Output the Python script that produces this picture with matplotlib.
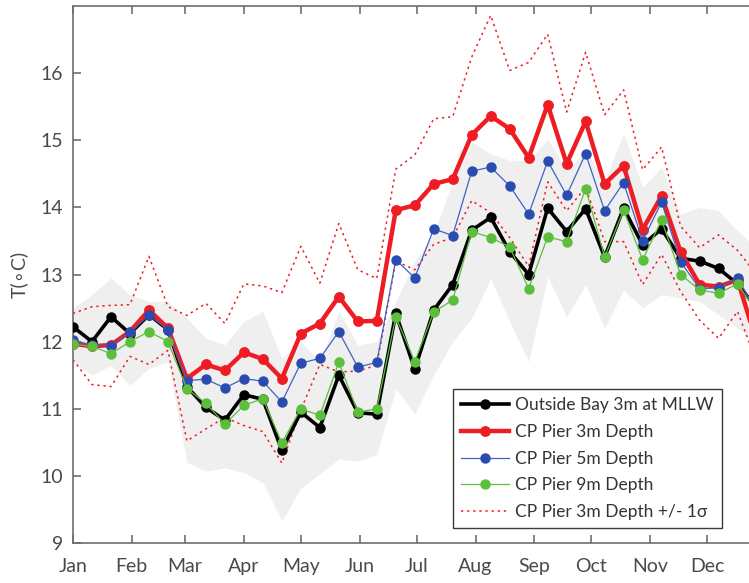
import matplotlib
matplotlib.use("Agg")
import matplotlib.pyplot as plt
import numpy as np

plt.rcParams['font.family'] = ['Lato', 'DejaVu Sans']

# sample days (every 10 days from Jan 1)
days = np.arange(1, 371, 10)

outside_bay = [12.22, 12.00, 12.37, 12.12, 12.40, 12.18, 11.33, 11.02, 10.83, 11.21,
               11.14, 10.38, 10.95, 10.72, 11.50, 10.94, 10.92, 12.42, 11.59, 12.47,
               12.85, 13.66, 13.85, 13.34, 13.00, 13.99, 13.64, 13.98, 13.26, 13.99,
               13.44, 13.68, 13.24, 13.20, 13.09, 12.86, 12.50]
pier_3m = [11.97, 11.93, 11.95, 12.15, 12.47, 12.20, 11.45, 11.66, 11.57, 11.84,
           11.74, 11.45, 12.12, 12.27, 12.67, 12.30, 12.31, 13.96, 14.03, 14.35,
           14.42, 15.08, 15.36, 15.17, 14.74, 15.53, 14.65, 15.28, 14.35, 14.62,
           13.67, 14.17, 13.34, 12.85, 12.82, 12.92, 12.00]
pier_5m = [12.02, 11.95, 11.93, 12.14, 12.39, 12.18, 11.42, 11.44, 11.31, 11.45,
           11.41, 11.10, 11.68, 11.75, 12.15, 11.62, 11.69, 13.22, 12.95, 13.68,
           13.58, 14.54, 14.60, 14.32, 13.90, 14.69, 14.18, 14.80, 13.95, 14.37,
           13.50, 14.08, 13.19, 12.79, 12.80, 12.95, 12.45]
pier_9m = [11.96, 11.93, 11.82, 12.00, 12.15, 12.00, 11.30, 11.08, 10.77, 11.05,
           11.15, 10.49, 11.00, 10.90, 11.69, 10.95, 11.00, 12.37, 11.70, 12.44,
           12.62, 13.64, 13.55, 13.41, 12.79, 13.56, 13.49, 14.28, 13.26, 13.96,
           13.22, 13.81, 13.00, 12.77, 12.72, 12.86, 12.45]
pier_3m_plus = [12.42, 12.52, 12.54, 12.55, 13.27, 12.52, 12.39, 12.57, 12.27, 12.86,
                12.83, 12.73, 13.42, 12.87, 13.76, 13.07, 12.94, 14.57, 14.78, 15.32,
                15.35, 16.24, 16.86, 16.04, 16.16, 16.58, 15.42, 16.31, 15.38, 15.75,
                14.56, 14.90, 13.72, 13.40, 13.59, 13.36, 13.00]
pier_3m_minus = [11.73, 11.36, 11.33, 11.78, 11.66, 11.87, 10.52, 10.70, 10.87, 10.75,
                 10.66, 10.19, 10.98, 11.66, 11.55, 11.56, 11.65, 13.20, 13.07, 13.45,
                 13.55, 14.10, 13.92, 13.55, 13.12, 14.38, 13.95, 14.30, 13.49, 13.49,
                 12.85, 13.30, 12.75, 12.32, 12.05, 12.45, 11.70]
band_upper = [12.50, 12.70, 12.95, 12.70, 12.60, 12.60, 12.35, 12.05, 11.95, 12.30,
              12.45, 11.75, 12.00, 11.70, 12.45, 11.95, 12.00, 12.60, 13.20, 13.60,
              14.40, 14.97, 14.80, 14.70, 14.70, 15.02, 14.55, 14.85, 14.40, 15.10,
              14.30, 14.60, 13.90, 14.00, 13.95, 13.65, 13.40]
band_lower = [11.70, 11.50, 11.65, 11.35, 11.60, 11.70, 10.20, 10.07, 10.12, 10.05,
              9.90, 9.33, 9.82, 10.03, 10.25, 10.22, 10.32, 11.30, 10.92, 11.50,
              12.00, 12.35, 12.94, 12.30, 11.70, 12.97, 12.37, 12.85, 12.20, 12.77,
              12.50, 12.70, 12.65, 12.60, 12.40, 12.20, 12.00]

month_days = [1, 32, 60, 91, 121, 152, 182, 213, 244, 274, 305, 335]
month_labels = ['Jan', 'Feb', 'Mar', 'Apr', 'May', 'Jun',
                'Jul', 'Aug', 'Sep', 'Oct', 'Nov', 'Dec']

W, H = 749, 583
fig = plt.figure(figsize=(W / 100, H / 100), dpi=100)
# the original figure is cropped on the right, so the axes run past the edge
ax = fig.add_axes([73 / W, 40 / H, 693 / W, 537 / H])

ax.fill_between(days, band_lower, band_upper, color='#efefef', lw=0, zorder=1)

red = '#ee1d23'
ax.plot(days, outside_bay, color='black', lw=2.6, marker='o', ms=6.5,
        label='Outside Bay 3m at MLLW', zorder=3)
ax.plot(days, pier_3m, color=red, lw=3.2, marker='o', ms=6.8,
        label='CP Pier 3m Depth', zorder=4)
ax.plot(days, pier_5m, color='#3f62c4', lw=0.9, marker='o', ms=6.5,
        mfc='#2a4cb0', mec='#2a4cb0', label='CP Pier 5m Depth', zorder=5)
ax.plot(days, pier_9m, color='#5cbf3c', lw=0.9, marker='o', ms=6.5,
        label='CP Pier 9m Depth', zorder=6)
ax.plot(days, pier_3m_plus, color=red, lw=1.1, ls=(0, (1.5, 2.5)),
        label='CP Pier 3m Depth +/- 1\u03c3', zorder=2)
ax.plot(days, pier_3m_minus, color=red, lw=1.1, ls=(0, (1.5, 2.5)), zorder=2)

ax.set_xlim(1, 366)
ax.set_ylim(9, 17)
ax.set_xticks(month_days)
ax.set_xticklabels(month_labels)
ax.set_yticks(range(9, 17))

axis_col = '#6e6e6e'
text_col = '#4a4a4a'
for side in ['left', 'top', 'bottom']:
    ax.spines[side].set_color(axis_col)
    ax.spines[side].set_linewidth(1.2)
ax.spines['right'].set_visible(False)
ax.tick_params(axis='both', direction='in', length=6, width=1.2, color=axis_col,
               labelcolor=text_col, labelsize=14)
ax.tick_params(axis='x', top=True, pad=11)
ax.tick_params(axis='y', pad=7)

ax.set_ylabel('T(\u2218C)', fontsize=14, color=text_col, labelpad=9)

leg = ax.legend(loc='lower left', bbox_to_anchor=(0.548, 0.028), borderaxespad=0,
                fontsize=12.5, handlelength=2.8, labelspacing=0.62, handletextpad=0.35,
                fancybox=False, framealpha=1, borderpad=0.45)
leg.get_frame().set_edgecolor('#3a3a3a')
leg.get_frame().set_linewidth(1.0)
for t in leg.get_texts():
    t.set_color('#333333')

fig.savefig('out.png', dpi=100)
